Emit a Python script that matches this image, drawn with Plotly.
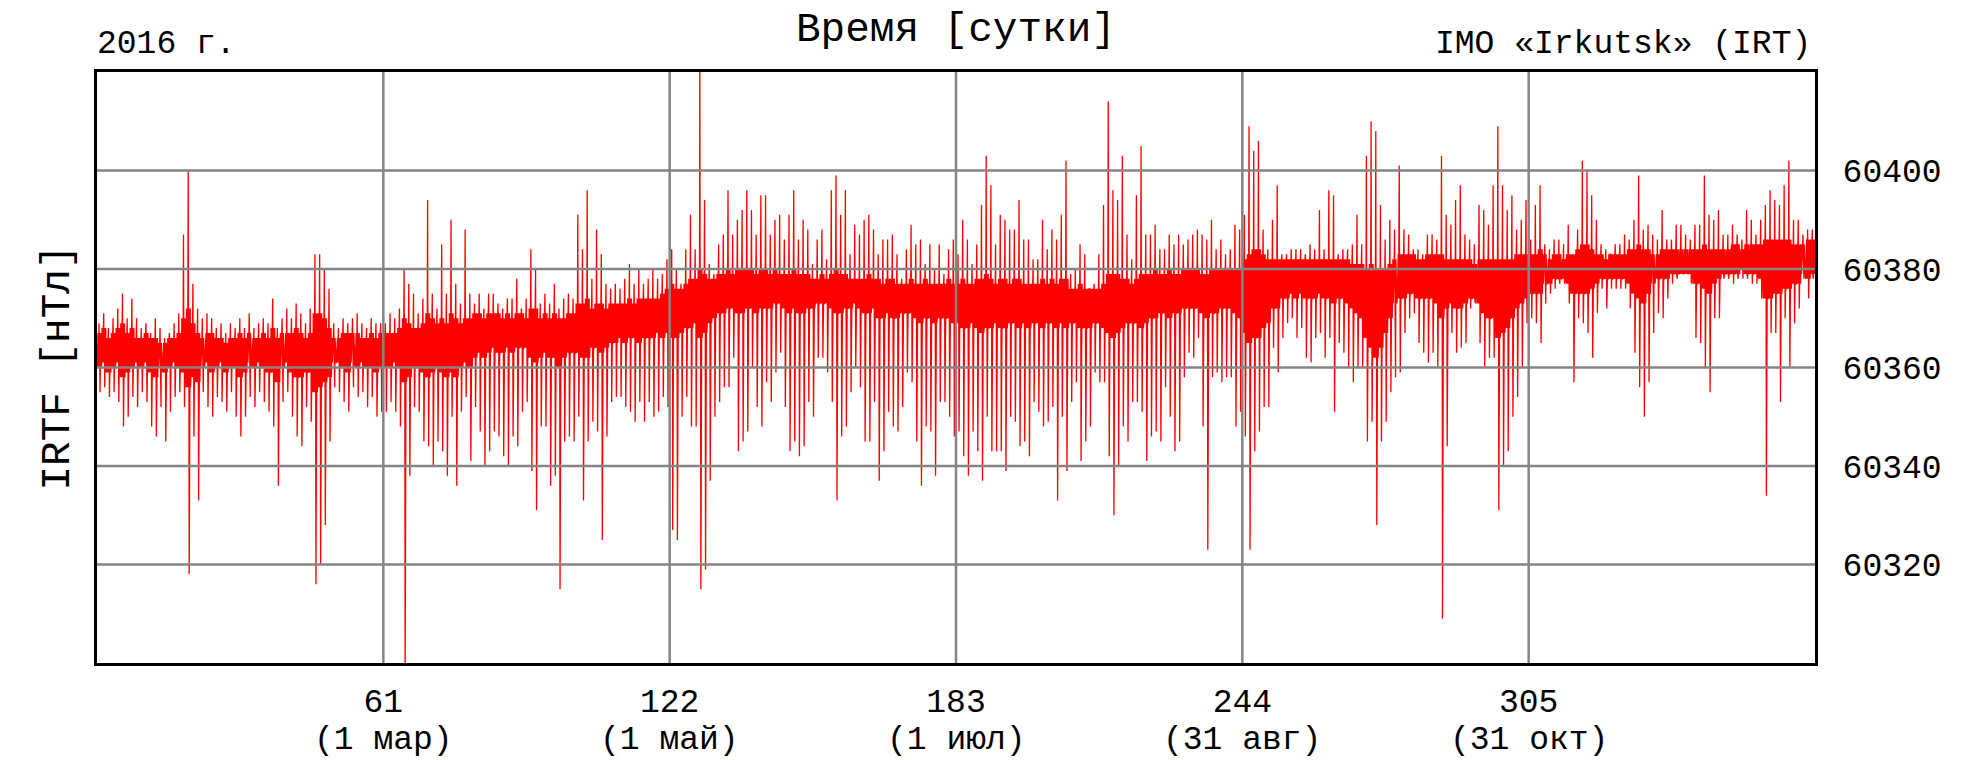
import plotly.graph_objects as go

# ---------------- data ----------------
# daily maximum of IRTF [nT], days 0..365
day_hi = [
    # days 0-60
    60369, 60371, 60368, 60370, 60372, 60375, 60370, 60374, 60370, 60368,
    60369, 60367, 60370, 60368, 60366, 60367, 60369, 60371, 60387, 60400,
    60377, 60372, 60370, 60371, 60370, 60368, 60369, 60367, 60369, 60368,
    60370, 60368, 60371, 60368, 60369, 60370, 60369, 60374, 60368, 60370,
    60372, 60370, 60373, 60371, 60369, 60372, 60383, 60383, 60380, 60376,
    60369, 60368, 60370, 60369, 60370, 60371, 60369, 60368, 60370, 60369,
    60369,
    # days 61-121
    60369, 60371, 60370, 60372, 60380, 60377, 60375, 60371, 60374, 60394,
    60375, 60372, 60385, 60375, 60390, 60377, 60373, 60388, 60375, 60373,
    60375, 60372, 60375, 60375, 60373, 60372, 60374, 60374, 60378, 60372,
    60374, 60384, 60380, 60373, 60375, 60373, 60377, 60372, 60374, 60375,
    60374, 60391, 60384, 60396, 60378, 60388, 60383, 60377, 60376, 60377,
    60376, 60378, 60381, 60377, 60380, 60377, 60378, 60380, 60378, 60379,
    60382,
    # days 122-182
    60384, 60380, 60377, 60384, 60391, 60384, 60422, 60394, 60381, 60379,
    60385, 60387, 60396, 60387, 60390, 60392, 60396, 60392, 60387, 60395,
    60395, 60387, 60390, 60391, 60386, 60391, 60396, 60386, 60390, 60388,
    60381, 60386, 60388, 60382, 60396, 60399, 60391, 60396, 60383, 60389,
    60387, 60390, 60391, 60388, 60383, 60386, 60386, 60387, 60383, 60378,
    60384, 60389, 60385, 60386, 60381, 60385, 60380, 60385, 60379, 60384,
    60386,
    # days 183-243
    60383, 60390, 60386, 60381, 60385, 60393, 60403, 60397, 60385, 60391,
    60390, 60388, 60388, 60394, 60386, 60386, 60382, 60382, 60390, 60384,
    60388, 60386, 60391, 60402, 60379, 60380, 60385, 60383, 60376, 60377,
    60383, 60393, 60414, 60396, 60394, 60403, 60387, 60382, 60395, 60405,
    60387, 60387, 60389, 60384, 60384, 60387, 60385, 60387, 60385, 60386,
    60387, 60388, 60387, 60386, 60390, 60384, 60386, 60383, 60384, 60389,
    60388,
    # days 244-304
    60391, 60409, 60404, 60406, 60388, 60384, 60390, 60397, 60383, 60383,
    60384, 60384, 60384, 60383, 60385, 60384, 60392, 60384, 60396, 60395,
    60383, 60384, 60384, 60385, 60391, 60385, 60403, 60410, 60408, 60393,
    60386, 60390, 60388, 60401, 60388, 60387, 60384, 60384, 60383, 60387,
    60387, 60386, 60403, 60391, 60389, 60394, 60397, 60387, 60386, 60385,
    60393, 60392, 60389, 60397, 60409, 60397, 60392, 60395, 60388, 60390,
    60394,
    # days 305-365
    60386, 60393, 60397, 60385, 60384, 60386, 60386, 60385, 60389, 60382,
    60388, 60402, 60400, 60395, 60390, 60385, 60384, 60383, 60385, 60385,
    60387, 60386, 60390, 60399, 60388, 60389, 60387, 60386, 60392, 60386,
    60386, 60389, 60389, 60387, 60386, 60389, 60389, 60399, 60391, 60390,
    60392, 60387, 60387, 60389, 60387, 60386, 60392, 60390, 60387, 60390,
    60393, 60396, 60394, 60393, 60397, 60402, 60390, 60390, 60387, 60388,
    60388,
]

# daily minimum of IRTF [nT], days 0..365
day_lo = [
    # days 0-60
    60355, 60356, 60354, 60355, 60353, 60348, 60350, 60354, 60352, 60355,
    60353, 60348, 60346, 60352, 60345, 60351, 60354, 60355, 60352, 60318,
    60346, 60333, 60355, 60352, 60350, 60354, 60353, 60351, 60355, 60350,
    60346, 60350, 60354, 60352, 60355, 60353, 60351, 60348, 60336, 60353,
    60355, 60350, 60346, 60344, 60352, 60349, 60316, 60320, 60328, 60345,
    60356, 60355, 60353, 60351, 60356, 60354, 60355, 60352, 60354, 60350,
    60351,
    # days 61-121
    60351, 60353, 60351, 60348, 60297, 60338, 60352, 60351, 60345, 60344,
    60340, 60345, 60343, 60338, 60350, 60336, 60351, 60354, 60341, 60352,
    60347, 60340, 60343, 60347, 60346, 60342, 60340, 60346, 60344, 60351,
    60353, 60339, 60331, 60348, 60348, 60336, 60338, 60315, 60345, 60346,
    60345, 60350, 60333, 60345, 60349, 60347, 60325, 60346, 60353, 60354,
    60354, 60352, 60351, 60349, 60353, 60349, 60353, 60350, 60351, 60354,
    60352,
    # days 122-182
    60327, 60325, 60350, 60354, 60348, 60348, 60315, 60319, 60337, 60350,
    60353, 60356, 60356, 60362, 60343, 60345, 60347, 60360, 60352, 60348,
    60357, 60353, 60359, 60363, 60352, 60343, 60345, 60342, 60344, 60353,
    60350, 60362, 60362, 60359, 60353, 60333, 60346, 60348, 60355, 60360,
    60356, 60345, 60345, 60353, 60337, 60343, 60351, 60348, 60347, 60352,
    60359, 60357, 60345, 60336, 60348, 60347, 60338, 60353, 60353, 60350,
    60346,
    # days 183-243
    60347, 60342, 60338, 60347, 60343, 60337, 60350, 60343, 60343, 60343,
    60339, 60350, 60349, 60344, 60345, 60342, 60353, 60351, 60348, 60349,
    60352, 60333, 60350, 60339, 60353, 60357, 60341, 60345, 60348, 60359,
    60357, 60357, 60342, 60330, 60340, 60348, 60345, 60353, 60353, 60351,
    60341, 60346, 60347, 60345, 60356, 60350, 60343, 60345, 60358, 60363,
    60362, 60366, 60348, 60323, 60358, 60359, 60357, 60358, 60358, 60348,
    60351,
    # days 244-304
    60346, 60323, 60343, 60347, 60352, 60352, 60364, 60359, 60366, 60369,
    60370, 60366, 60368, 60362, 60361, 60366, 60367, 60362, 60366, 60351,
    60365, 60363, 60360, 60357, 60360, 60360, 60345, 60349, 60328, 60345,
    60349, 60355, 60358, 60359, 60367, 60370, 60371, 60365, 60363, 60361,
    60363, 60360, 60309, 60344, 60367, 60363, 60364, 60365, 60372, 60373,
    60365, 60360, 60362, 60362, 60331, 60340, 60343, 60350, 60354, 60360,
    60369,
    # days 305-365
    60370, 60369, 60365, 60373, 60375, 60376, 60377, 60377, 60373, 60357,
    60370, 60369, 60367, 60362, 60371, 60376, 60372, 60376, 60376, 60376,
    60376, 60372, 60363, 60356, 60350, 60357, 60367, 60371, 60370, 60374,
    60377, 60378, 60379, 60379, 60377, 60366, 60365, 60360, 60355, 60370,
    60370, 60378, 60378, 60377, 60378, 60378, 60378, 60377, 60377, 60374,
    60334, 60367, 60367, 60353, 60370, 60360, 60369, 60372, 60378, 60374,
    60378,
]

# lower edge of the dense core band, per day
core_lo = [
    60360, 60361, 60359, 60360, 60361, 60358, 60359, 60360, 60361, 60360,
    60361, 60359, 60358, 60360, 60359, 60360, 60361, 60360, 60359, 60356,
    60358, 60357, 60360, 60361, 60359, 60360, 60361, 60359, 60360, 60360,
    60358, 60359, 60361, 60360, 60361, 60360, 60359, 60359, 60357, 60360,
    60361, 60359, 60358, 60358, 60359, 60359, 60355, 60356, 60357, 60358,
    60361, 60361, 60360, 60359, 60361, 60360, 60361, 60360, 60360, 60359,
    60360,
    60360, 60360, 60361, 60360, 60357, 60358, 60360, 60360, 60359, 60358,
    60359, 60360, 60359, 60358, 60359, 60358, 60360, 60361, 60360, 60362,
    60363, 60362, 60363, 60364, 60363, 60363, 60364, 60363, 60364, 60364,
    60364, 60362, 60361, 60362, 60363, 60362, 60362, 60360, 60362, 60363,
    60363, 60363, 60362, 60362, 60364, 60364, 60363, 60364, 60365, 60365,
    60366, 60365, 60366, 60366, 60365, 60366, 60366, 60366, 60367, 60366,
    60367,
    60366, 60366, 60367, 60368, 60368, 60369, 60366, 60367, 60369, 60370,
    60371, 60371, 60372, 60372, 60371, 60371, 60372, 60372, 60371, 60372,
    60372, 60372, 60373, 60373, 60372, 60371, 60372, 60371, 60371, 60372,
    60372, 60373, 60373, 60373, 60372, 60371, 60371, 60372, 60372, 60373,
    60372, 60371, 60371, 60372, 60370, 60370, 60371, 60370, 60370, 60371,
    60371, 60371, 60370, 60369, 60370, 60370, 60369, 60370, 60370, 60370,
    60369,
    60369, 60368, 60368, 60369, 60368, 60367, 60368, 60368, 60369, 60368,
    60368, 60369, 60369, 60368, 60369, 60368, 60369, 60369, 60368, 60369,
    60369, 60368, 60369, 60368, 60369, 60369, 60368, 60368, 60368, 60369,
    60369, 60368, 60367, 60366, 60367, 60368, 60369, 60369, 60369, 60368,
    60369, 60370, 60370, 60371, 60371, 60370, 60371, 60371, 60372, 60372,
    60372, 60372, 60371, 60370, 60371, 60371, 60372, 60372, 60372, 60371,
    60370,
    60367, 60365, 60366, 60366, 60368, 60369, 60372, 60372, 60374, 60374,
    60375, 60374, 60375, 60374, 60374, 60374, 60375, 60374, 60374, 60373,
    60374, 60374, 60373, 60372, 60371, 60370, 60366, 60364, 60362, 60364,
    60367, 60370, 60373, 60374, 60374, 60375, 60375, 60374, 60374, 60374,
    60374, 60373, 60370, 60372, 60373, 60372, 60372, 60373, 60374, 60374,
    60373, 60371, 60370, 60370, 60366, 60367, 60368, 60370, 60372, 60373,
    60374,
    60375, 60375, 60375, 60377, 60377, 60378, 60378, 60378, 60377, 60375,
    60375, 60375, 60375, 60376, 60377, 60378, 60378, 60378, 60378, 60378,
    60378, 60377, 60375, 60374, 60373, 60375, 60377, 60378, 60378, 60378,
    60379, 60379, 60379, 60379, 60379, 60377, 60377, 60376, 60375, 60377,
    60378, 60379, 60379, 60379, 60379, 60380, 60379, 60379, 60379, 60378,
    60374, 60374, 60375, 60375, 60376, 60376, 60377, 60377, 60379, 60378,
    60379,
]

# upper edge of the dense core band, per day
core_hi = [
    60367, 60368, 60366, 60367, 60368, 60369, 60367, 60368, 60366, 60366,
    60367, 60366, 60366, 60365, 60365, 60366, 60366, 60367, 60370, 60372,
    60369, 60367, 60366, 60367, 60367, 60366, 60366, 60365, 60366, 60366,
    60367, 60366, 60367, 60366, 60366, 60367, 60366, 60368, 60366, 60367,
    60367, 60367, 60368, 60367, 60366, 60367, 60371, 60371, 60370, 60368,
    60366, 60366, 60367, 60367, 60367, 60367, 60366, 60366, 60367, 60366,
    60367,
    60367, 60367, 60367, 60368, 60370, 60369, 60368, 60368, 60369, 60371,
    60370, 60369, 60370, 60369, 60371, 60370, 60369, 60370, 60370, 60371,
    60371, 60370, 60371, 60371, 60371, 60370, 60371, 60370, 60371, 60371,
    60370, 60372, 60372, 60370, 60371, 60370, 60371, 60370, 60370, 60371,
    60371, 60373, 60373, 60374, 60372, 60373, 60373, 60372, 60373, 60373,
    60373, 60373, 60374, 60373, 60374, 60374, 60374, 60374, 60374, 60375,
    60376,
    60377, 60376, 60376, 60377, 60378, 60378, 60380, 60379, 60378, 60378,
    60379, 60379, 60380, 60379, 60380, 60380, 60380, 60380, 60379, 60380,
    60380, 60379, 60380, 60379, 60379, 60379, 60380, 60379, 60379, 60379,
    60378, 60378, 60379, 60378, 60379, 60380, 60379, 60379, 60378, 60378,
    60378, 60378, 60379, 60378, 60378, 60377, 60378, 60378, 60377, 60377,
    60377, 60378, 60377, 60377, 60378, 60377, 60377, 60377, 60377, 60378,
    60377,
    60377, 60378, 60377, 60377, 60378, 60378, 60379, 60378, 60377, 60378,
    60378, 60377, 60378, 60378, 60377, 60377, 60377, 60377, 60378, 60377,
    60378, 60377, 60378, 60378, 60376, 60376, 60377, 60376, 60376, 60376,
    60376, 60377, 60379, 60379, 60379, 60378, 60378, 60377, 60378, 60379,
    60379, 60379, 60380, 60379, 60379, 60380, 60379, 60379, 60380, 60380,
    60380, 60380, 60379, 60379, 60380, 60380, 60380, 60380, 60380, 60380,
    60380,
    60382, 60383, 60384, 60384, 60383, 60382, 60382, 60382, 60382, 60382,
    60382, 60382, 60382, 60382, 60382, 60382, 60382, 60382, 60382, 60382,
    60382, 60382, 60382, 60381, 60381, 60381, 60380, 60381, 60380, 60380,
    60380, 60381, 60382, 60383, 60383, 60383, 60383, 60382, 60382, 60383,
    60383, 60383, 60383, 60382, 60382, 60382, 60382, 60382, 60382, 60381,
    60382, 60382, 60382, 60382, 60382, 60382, 60382, 60382, 60383, 60383,
    60383,
    60383, 60383, 60384, 60383, 60382, 60383, 60383, 60382, 60383, 60383,
    60384, 60385, 60385, 60384, 60383, 60383, 60382, 60383, 60383, 60383,
    60383, 60384, 60384, 60385, 60384, 60384, 60383, 60383, 60384, 60384,
    60384, 60384, 60384, 60384, 60384, 60384, 60384, 60385, 60384, 60384,
    60384, 60384, 60384, 60385, 60385, 60384, 60385, 60385, 60385, 60385,
    60386, 60386, 60386, 60386, 60386, 60386, 60385, 60385, 60385, 60386,
    60386,
]

x_tickvals = [61, 122, 183, 244, 305]
x_ticktext = ["61", "122", "183", "244", "305"]
x_datetext = ["(1 мар)", "(1 май)", "(1 июл)", "(31 авг)", "(31 окт)"]
y_tickvals = [60320, 60340, 60360, 60380, 60400]
x_range = [0, 366]
y_range = [60300, 60420]

# ---------------- build the polyline (intraday order of the read values) ----------------
xs, ys = [], []
for d in range(len(day_hi)):
    cl, ch = core_lo[d], core_hi[d]
    seq = [cl, ch, cl, ch, cl, ch, day_hi[d], cl, ch, day_lo[d], ch, cl, ch, cl]
    n = len(seq)
    for i, v in enumerate(seq):
        xs.append(d + i / n)
        ys.append(v)

FONT = "Courier New, Liberation Mono, monospace"
SMALL, BIG = 33, 41

fig = go.Figure()
fig.add_trace(go.Scatter(x=xs, y=ys, mode="lines",
                         line=dict(color="#ff0000", width=1.3),
                         hoverinfo="skip", showlegend=False))

# plot geometry (pixels)
W, H = 1976, 760
L, R, T, B = 97, 161, 72, 97
pw, ph = W - L - R, H - T - B


def px_to_paper_y(py):
    return 1 + (T - py) / ph


def px_to_paper_x(px):
    return (px - L) / pw


shapes = []
for v in x_tickvals:
    shapes.append(dict(type="line", xref="x", yref="paper", x0=v, x1=v, y0=0, y1=1,
                       line=dict(color="#858585", width=2.5), layer="above"))
for v in y_tickvals:
    shapes.append(dict(type="line", xref="paper", yref="y", x0=0, x1=1, y0=v, y1=v,
                       line=dict(color="#858585", width=2.5), layer="above"))

annotations = [
    dict(text="Время [сутки]", xref="paper", yref="paper", x=0.5, y=px_to_paper_y(30),
         xanchor="center", yanchor="middle", showarrow=False,
         font=dict(family=FONT, size=BIG, color="black")),
    dict(text="2016 г.", xref="paper", yref="paper", x=px_to_paper_x(95), y=px_to_paper_y(44),
         xanchor="left", yanchor="middle", showarrow=False,
         font=dict(family=FONT, size=SMALL, color="black")),
    dict(text="IMO «Irkutsk» (IRT)", xref="paper", yref="paper", x=px_to_paper_x(1813),
         y=px_to_paper_y(44), xanchor="right", yanchor="middle", showarrow=False,
         font=dict(family=FONT, size=SMALL, color="black")),
    dict(text="IRTF [нТл]", xref="paper", yref="paper", x=px_to_paper_x(57), y=0.5,
         xanchor="center", yanchor="middle", textangle=-90, showarrow=False,
         font=dict(family=FONT, size=BIG, color="black")),
]
# second line of the x tick labels (dates)
for v, t in zip(x_tickvals, x_datetext):
    annotations.append(dict(text=t, xref="x", yref="paper", x=v, y=px_to_paper_y(740),
                            xanchor="center", yanchor="middle", showarrow=False,
                            font=dict(family=FONT, size=SMALL, color="black")))

fig.update_layout(
    width=W, height=H,
    margin=dict(l=L, r=R, t=T, b=B, pad=0),
    paper_bgcolor="white", plot_bgcolor="white",
    showlegend=False,
    shapes=shapes, annotations=annotations,
    xaxis=dict(range=x_range, tickvals=x_tickvals, ticktext=x_ticktext,
               automargin=False,
               showgrid=False, zeroline=False, showline=True, mirror=True,
               linecolor="black", linewidth=3, ticks="", ticklabelstandoff=6,
               tickfont=dict(family=FONT, size=SMALL, color="black")),
    yaxis=dict(range=y_range, tickvals=y_tickvals, side="right",
               tickformat="d", automargin=False,
               showgrid=False, zeroline=False, showline=True, mirror=True,
               linecolor="black", linewidth=3, ticks="", ticklabelstandoff=18,
               tickfont=dict(family=FONT, size=SMALL, color="black")),
)

fig.write_html("out.html")
